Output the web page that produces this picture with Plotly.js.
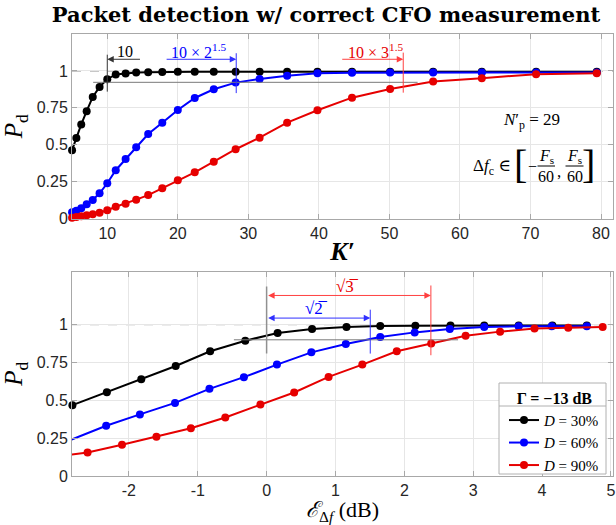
<!DOCTYPE html>
<html>
<head>
<meta charset="utf-8">
<script src="https://cdn.plot.ly/plotly-3.0.1.min.js"></script>
<style>
  html, body { margin: 0; padding: 0; background: #fff; }
  #chart { width: 616px; height: 525px; }
</style>
</head>
<body>
<div id="chart"></div>
<script>
// ---- Upper panel: detection probability against K' ----
const kPrime = [5.01, 5.62, 6.31, 7.08, 7.94, 8.91, 10.0, 11.2, 12.6, 14.1, 15.8, 17.8, 20.0,
                22.4, 25.1, 28.2, 31.6, 35.5, 39.8, 44.7, 50.1, 56.2, 63.1, 70.8, 79.4];
const pdK30 = [0.464, 0.547, 0.638, 0.728, 0.824, 0.892, 0.944, 0.976, 0.982, 0.989, 0.991, 0.993, 0.994,
               0.995, 0.995, 0.995, 0.995, 0.995, 0.995, 0.995, 0.995, 0.995, 0.995, 0.995, 0.995];
const pdK60 = [0.043, 0.054, 0.070, 0.097, 0.127, 0.172, 0.240, 0.328, 0.404, 0.483, 0.573, 0.650, 0.736,
               0.817, 0.876, 0.921, 0.946, 0.968, 0.984, 0.988, 0.990, 0.990, 0.990, 0.990, 0.990];
const pdK90 = [0.007, 0.011, 0.016, 0.023, 0.030, 0.041, 0.057, 0.081, 0.102, 0.129, 0.160, 0.206, 0.260,
               0.314, 0.386, 0.470, 0.548, 0.650, 0.734, 0.819, 0.878, 0.928, 0.951, 0.978, 0.984];

// ---- Lower panel: detection probability against the CFO error ----
const e30 = [-2.82, -2.32, -1.82, -1.32, -0.82, -0.31, 0.16, 0.66, 1.16, 1.65, 2.16, 2.67, 3.16, 3.66, 4.15, 4.65];
const pdE30 = [0.468, 0.554, 0.640, 0.727, 0.824, 0.894, 0.945, 0.971, 0.984, 0.991, 0.993, 0.995, 0.995, 0.995, 0.995, 0.995];
const e60 = [-2.84, -2.33, -1.84, -1.33, -0.83, -0.33, 0.15, 0.65, 1.15, 1.65, 2.15, 2.66, 3.16, 3.66, 4.14, 4.65];
const pdE60 = [0.240, 0.332, 0.407, 0.483, 0.576, 0.653, 0.736, 0.817, 0.872, 0.918, 0.949, 0.971, 0.984, 0.990, 0.990, 0.990];
const e90 = [-3.10, -2.60, -2.10, -1.60, -1.10, -0.60, -0.09, 0.40, 0.90, 1.39, 1.89, 2.39, 2.89, 3.39, 3.89, 4.38, 4.88];
const pdE90 = [0.125, 0.156, 0.206, 0.259, 0.316, 0.387, 0.473, 0.552, 0.655, 0.736, 0.824, 0.875, 0.927, 0.954, 0.974, 0.980, 0.984];

const seriesNames = ['<i>D</i> = 30%', '<i>D</i> = 60%', '<i>D</i> = 90%'];
const seriesColors = ['#000000', '#0000ff', '#e60000'];

// Marked window lengths and CFO error levels
const kMarks = [10, 10 * Math.pow(2, 1.5), 10 * Math.pow(3, 1.5)];
const eMarks = [0, 10 * Math.log10(Math.sqrt(2)), 10 * Math.log10(Math.sqrt(3))];

const topTicks = [10, 20, 30, 40, 50, 60, 70, 80];
const bottomTicks = [-2, -1, 0, 1, 2, 3, 4, 5];
const bottomTickText = ['-2', '-1', '0', '1', '2', '3', '4', '5'];
const pdTicks = [0, 0.25, 0.5, 0.75, 1];
const pdTickText = ['0', '0.25', '0.5', '0.75', '1'];

const SERIF = "'Liberation Serif', 'DejaVu Serif', serif";
const SANS = "'Liberation Sans', Arial, sans-serif";

// Plot area: 72..613 px horizontally, 34..476 px vertically
const L = 72, T = 34, W = 541, H = 442;
const px = x => (x - L) / W;
const py = y => (T + H - y) / H;

function axisStyle(extra) {
  return Object.assign({
    showline: true, mirror: 'ticks', linecolor: '#a8a8a8', linewidth: 1,
    ticks: 'inside', ticklen: 5, tickcolor: '#a8a8a8',
    showgrid: true, gridcolor: '#e6e6e6', gridwidth: 1, zeroline: false,
    tickfont: { family: SANS, size: 16, color: '#262626' }
  }, extra);
}

function curve(x, y, i, xa, ya, legend) {
  return {
    type: 'scatter', mode: 'lines+markers', x: x, y: y,
    xaxis: xa, yaxis: ya, name: seriesNames[i], showlegend: legend,
    cliponaxis: false,
    line: { color: seriesColors[i], width: 2 },
    marker: { color: seriesColors[i], size: 8 }
  };
}

const traces = [
  curve(kPrime, pdK30, 0, 'x', 'y', false),
  curve(kPrime, pdK60, 1, 'x', 'y', false),
  curve(kPrime, pdK90, 2, 'x', 'y', false),
  curve(e30, pdE30, 0, 'x2', 'y2', true),
  curve(e60, pdE60, 1, 'x2', 'y2', true),
  curve(e90, pdE90, 2, 'x2', 'y2', true)
];

const markLineColors = ['#3a3a3a', '#3030ff', '#ff4040'];

function seg(xref, yref, x0, y0, x1, y1, color, width, dash, layer) {
  return { type: 'line', xref: xref, yref: yref, x0: x0, y0: y0, x1: x1, y1: y1,
           line: { color: color, width: width, dash: dash || 'solid' }, layer: layer || 'above' };
}

const shapes = [
  // Pd = 1 reference
  seg('paper', 'y', 0, 1, 1, 1, '#808080', 1, 'dash', 'below'),
  seg('paper', 'y2', 0, 1, 1, 1, '#808080', 1, 'dash', 'below'),
  // upper panel threshold and markers
  seg('x', 'y', 8.0, 0.923, 54, 0.923, '#7a7a7a', 1),
  seg('x', 'y', kMarks[0], 0.86, kMarks[0], 1.11, markLineColors[0], 1),
  seg('x', 'y', kMarks[1], 0.85, kMarks[1], 1.12, markLineColors[1], 1),
  seg('x', 'y', kMarks[2], 0.853, kMarks[2], 1.124, markLineColors[2], 1),
  // lower panel threshold and markers
  seg('x2', 'y2', -0.475, 0.9, 2.78, 0.9, '#7a7a7a', 1),
  seg('x2', 'y2', eMarks[0], 0.809, eMarks[0], 1.252, '#909090', 1.5),
  seg('x2', 'y2', eMarks[1], 0.809, eMarks[1], 1.099, markLineColors[1], 1),
  seg('x2', 'y2', eMarks[2], 0.798, eMarks[2], 1.259, markLineColors[2], 1),
  // legend frame with header separator
  { type: 'rect', xref: 'paper', yref: 'paper', x0: px(499), x1: px(606), y0: py(474), y1: py(383),
    fillcolor: '#ffffff', line: { color: '#b0b0b0', width: 1 }, layer: 'above' },
  seg('paper', 'paper', px(499), py(406), px(606), py(406), '#b0b0b0', 1),
  // fraction bars
  seg('paper', 'paper', px(537.5), py(166), px(555), py(166), '#000', 1),
  seg('paper', 'paper', px(565.5), py(166), px(583.5), py(166), '#000', 1)
];

function arrow(xref, yref, x, y, ax, both, color) {
  return { xref: xref, yref: yref, axref: xref, ayref: yref, x: x, y: y, ax: ax, ay: y,
           text: '', showarrow: true, arrowhead: 2, arrowsize: 1.3, arrowwidth: 1,
           arrowcolor: color, standoff: 0, startstandoff: 0,
           arrowside: both ? 'end+start' : 'end' };
}

function label(xref, yref, x, y, text, size, color, xanchor) {
  return { xref: xref, yref: yref, x: x, y: y, text: text, showarrow: false,
           xanchor: xanchor || 'center', yanchor: 'middle', borderpad: 0,
           font: { family: SERIF, size: size, color: color || '#000' } };
}

const annotations = [
  arrow('x', 'y', kMarks[0], 1.079, 14.85, false, '#333'),
  arrow('x', 'y', kMarks[1], 1.079, 18.2, false, '#3030ff'),
  arrow('x', 'y', kMarks[2], 1.079, 43.1, false, '#ff4040'),
  label('x', 'y', 12.5, 1.13, '10', 16, '#000'),
  label('x', 'y', 23.0, 1.135, '10 × 2<sup>1.5</sup>', 16, '#0000ff'),
  label('x', 'y', 48.0, 1.135, '10 × 3<sup>1.5</sup>', 16, '#e60000'),

  arrow('x2', 'y2', eMarks[1], 1.0435, eMarks[0], true, '#3030ff'),
  arrow('x2', 'y2', eMarks[2], 1.193, eMarks[0], true, '#ff4040'),
  label('x2', 'y2', 0.726, 1.107, '√2̅', 17, '#0000ff'),
  label('x2', 'y2', 1.18, 1.252, '√3̅', 17, '#e60000'),

  // system parameters
  label('paper', 'paper', px(531), py(121.5), '<i>N</i>′<sub>p</sub> = 29', 17),
  label('paper', 'paper', px(512), py(166.5), 'Δ<i>f</i><sub>c</sub> ∈', 17, '#000', 'right'),
  label('paper', 'paper', px(520.5), py(165), '[', 40),
  label('paper', 'paper', px(532), py(166.5), '−', 16),
  label('paper', 'paper', px(546), py(156), '<i>F</i><sub>s</sub>', 16),
  label('paper', 'paper', px(546), py(177), '60', 16),
  label('paper', 'paper', px(559), py(171), ',', 17),
  label('paper', 'paper', px(574.5), py(156), '<i>F</i><sub>s</sub>', 16),
  label('paper', 'paper', px(574.5), py(177), '60', 16),
  label('paper', 'paper', px(588.5), py(165), ']', 40)
];

const layout = {
  width: 616, height: 525,
  margin: { l: L, r: 616 - L - W, t: T, b: 525 - T - H },
  paper_bgcolor: '#ffffff', plot_bgcolor: '#ffffff',
  showlegend: true,
  title: {
    text: '<b>Packet detection w/ correct CFO measurement</b>',
    font: { family: "'DejaVu Serif', serif", size: 21, color: '#000' },
    xref: 'container', yref: 'container', x: 326 / 616, xanchor: 'center',
    y: 1 - 15 / 525, yanchor: 'middle'
  },
  xaxis: axisStyle({
    domain: [0, 1], anchor: 'y', range: [5, 81.7], tickvals: topTicks,
    title: { text: '<b><i>K′</i></b>', font: { family: SERIF, size: 26, color: '#000' }, standoff: 0 }
  }),
  yaxis: axisStyle({
    domain: [py(218.7), 1], anchor: 'x', range: [0, 1.25], tickvals: pdTicks, ticktext: pdTickText,
    title: { text: '<i>P</i><sub>d</sub>', font: { family: SERIF, size: 25, color: '#000' }, standoff: 6 }
  }),
  xaxis2: axisStyle({
    domain: [0, 1], anchor: 'y2', range: [-2.826, 5.03], tickvals: bottomTicks, ticktext: bottomTickText,
    title: { text: '<i>ℰ</i><sub>Δ<i>f</i></sub> (dB)', font: { family: SERIF, size: 22, color: '#000' }, standoff: 4 }
  }),
  yaxis2: axisStyle({
    domain: [0, py(271.7)], anchor: 'x2', range: [0, 1.35], tickvals: pdTicks, ticktext: pdTickText,
    title: { text: '<i>P</i><sub>d</sub>', font: { family: SERIF, size: 25, color: '#000' }, standoff: 6 }
  }),
  legend: {
    x: px(605), xanchor: 'right', y: py(383), yanchor: 'top',
    bgcolor: 'rgba(0,0,0,0)', borderwidth: 0,
    font: { family: SERIF, size: 15, color: '#000' },
    title: { text: '<b>Γ = −13 dB</b>', side: 'top center', font: { family: SERIF, size: 16, color: '#000' } },
    itemwidth: 30, tracegroupgap: 0
  },
  shapes: shapes,
  annotations: annotations
};

Plotly.newPlot('chart', traces, layout, { displayModeBar: false, staticPlot: true });
</script>
</body>
</html>
